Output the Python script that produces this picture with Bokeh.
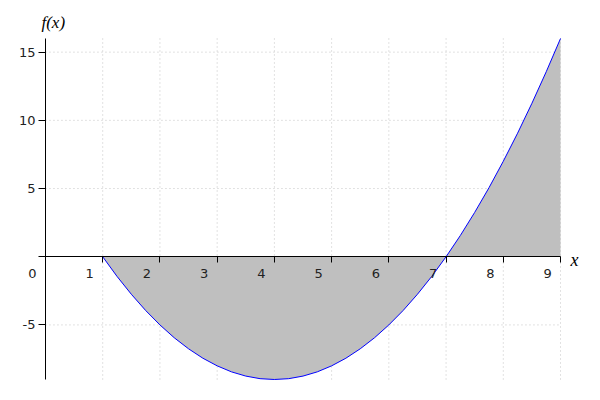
from bokeh.plotting import figure
from bokeh.models import Range1d, LinearAxis, FixedTicker, Label, ColumnDataSource
from bokeh.embed import file_html
from bokeh.resources import INLINE

# curve samples f(x)
x_vals = [1.0, 1.25, 1.5, 1.75, 2.0, 2.25, 2.5, 2.75, 3.0, 3.25, 3.5, 3.75, 4.0,
          4.25, 4.5, 4.75, 5.0, 5.25, 5.5, 5.75, 6.0, 6.25, 6.5, 6.75, 7.0,
          7.25, 7.5, 7.75, 8.0, 8.25, 8.5, 8.75, 9.0]
f_vals = [0.0, -1.44, -2.75, -3.94, -5.0, -5.94, -6.75, -7.44, -8.0, -8.44, -8.75, -8.94, -9.0,
          -8.94, -8.75, -8.44, -8.0, -7.44, -6.75, -5.94, -5.0, -3.94, -2.75, -1.44, 0.0,
          1.56, 3.25, 5.06, 7.0, 9.06, 11.25, 13.56, 16.0]

x_ticks = [1, 2, 3, 4, 5, 6, 7, 8, 9]
x_label_pos = [0, 1, 2, 3, 4, 5, 6, 7, 8, 9]
x_tick_labels = ["0", "1", "2", "3", "4", "5", "6", "7", "8", "9"]
y_ticks = [-5, 5, 10, 15]
y_tick_labels = {-5: "-5", 5: "5", 10: "10", 15: "15"}

x_lo, x_hi = 0, 9
y_lo, y_hi = -9, 16

p = figure(width=584, height=384,
           x_range=Range1d(-0.786, 9.419), y_range=Range1d(-9.367, 18.786),
           output_backend="svg", toolbar_location=None,
           x_axis_location=None, y_axis_location=None,
           min_border_left=0, min_border_right=0, min_border_top=0, min_border_bottom=0)
p.center = []  # drop the default full-frame grids
p.outline_line_color = None
p.background_fill_color = "white"
p.border_fill_color = "white"

# dotted grid limited to the plotted region
grid_color = "#c4c4c4"
p.segment(x0=x_ticks, y0=y_lo, x1=x_ticks, y1=y_hi,
          line_color=grid_color, line_dash="1 3", line_width=1, level="underlay")
p.segment(x0=x_lo, y0=y_ticks, x1=x_hi, y1=y_ticks,
          line_color=grid_color, line_dash="1 3", line_width=1, level="underlay")

src = ColumnDataSource(data=dict(x=x_vals, y=f_vals))
p.varea(x="x", y1=0, y2="y", source=src, fill_color="#bfbfbf", fill_alpha=1.0)
p.line(x="x", y="y", source=src, line_color="#0000ff", line_width=1)

text_color = "#222222"
yaxis = LinearAxis(fixed_location=0, bounds=(y_lo, y_hi), ticker=FixedTicker(ticks=y_ticks),
                   major_label_overrides=y_tick_labels,
                   major_tick_out=7, major_tick_in=0, minor_tick_out=0, minor_tick_in=0,
                   major_label_standoff=3, axis_line_color="black", major_tick_line_color="black",
                   major_label_text_font="DejaVu Sans", major_label_text_font_size="13px",
                   major_label_text_color=text_color)
p.add_layout(yaxis, "left")

# tick at y = 0 (unlabelled), which extends the x axis line to the left
y0axis = LinearAxis(fixed_location=0, ticker=FixedTicker(ticks=[0]),
                    major_tick_out=7, major_tick_in=0, minor_tick_out=0, minor_tick_in=0,
                    axis_line_color=None, major_tick_line_color="black",
                    major_label_text_color=None)
p.add_layout(y0axis, "left")

xaxis = LinearAxis(fixed_location=0, bounds=(x_lo, x_hi), ticker=FixedTicker(ticks=x_ticks),
                   major_tick_out=6, major_tick_in=0, minor_tick_out=0, minor_tick_in=0,
                   major_label_text_color=None,
                   axis_line_color="black", major_tick_line_color="black")
p.add_layout(xaxis, "below")

for xv, txt in zip(x_label_pos, x_tick_labels):
    p.add_layout(Label(x=xv, y=0, text=txt, x_offset=-13, y_offset=-17,
                       text_align="center", text_baseline="middle",
                       text_font="DejaVu Sans", text_font_size="13px", text_color=text_color))

p.add_layout(Label(x=0, y=y_hi, text="f(x)", x_offset=-4, y_offset=16,
                   text_align="left", text_baseline="middle",
                   text_font="'Liberation Serif', serif", text_font_style="italic",
                   text_font_size="17px", text_color="black"))
p.add_layout(Label(x=x_hi, y=0, text="x", x_offset=10, y_offset=-3,
                   text_align="left", text_baseline="middle",
                   text_font="'Liberation Serif', serif", text_font_style="italic",
                   text_font_size="18px", text_color="black"))

open("out.html", "w").write(file_html(p, INLINE))
